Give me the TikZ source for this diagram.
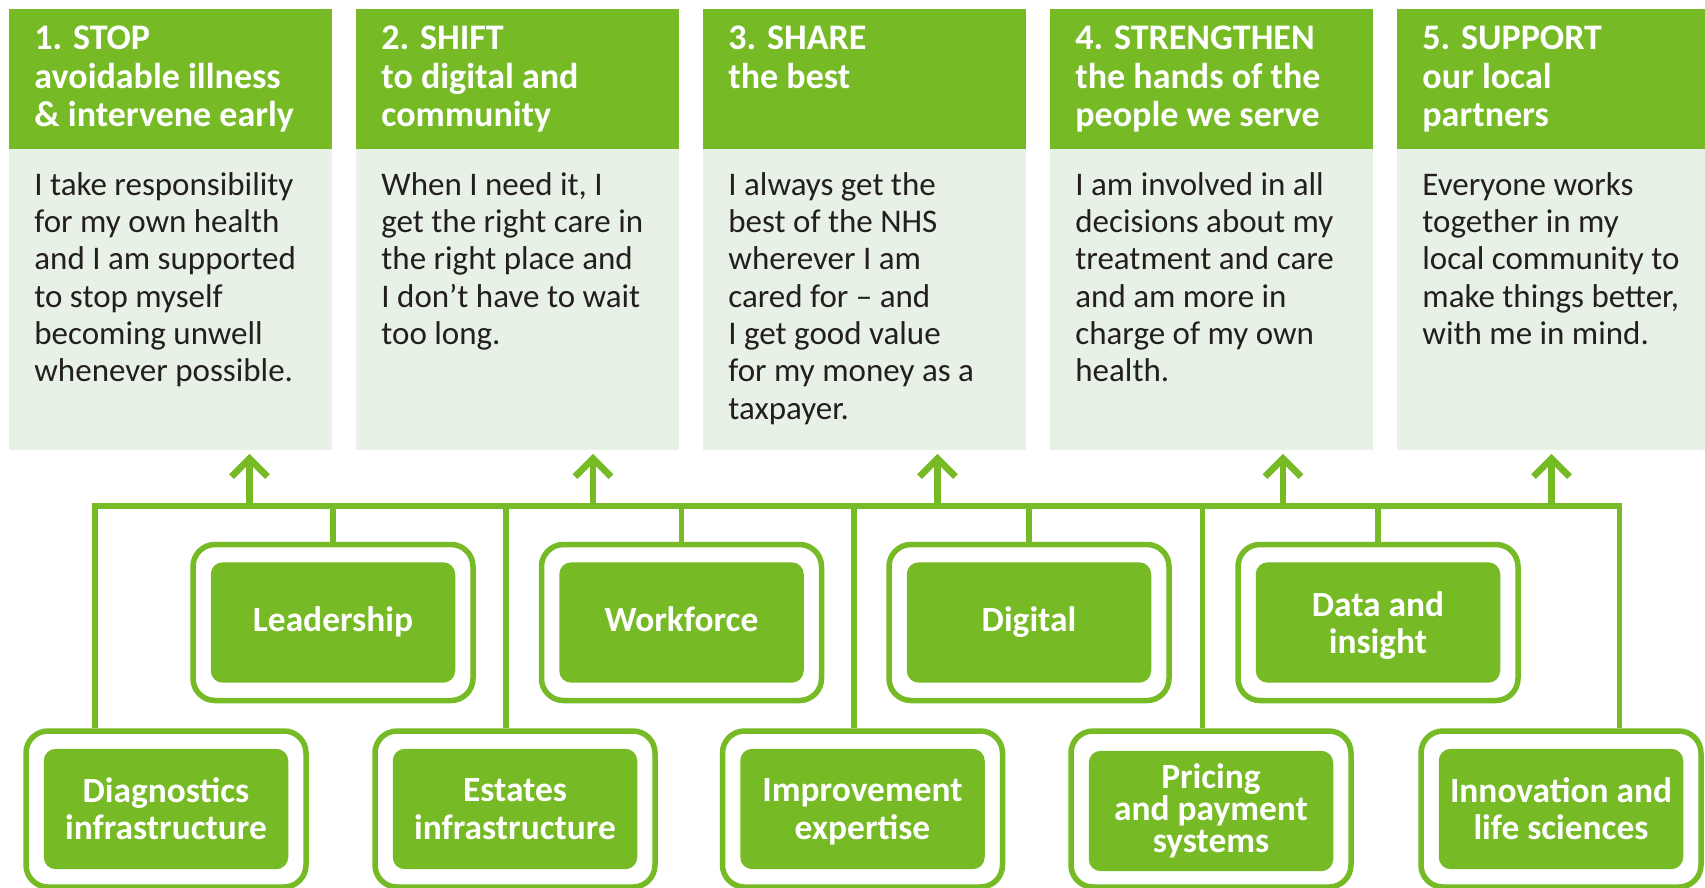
\documentclass[tikz,border=0pt]{standalone}
\usepackage{fontspec}
\setmainfont{Carlito}
\usetikzlibrary{positioning,arrows.meta,calc}

\definecolor{nhsgreen}{RGB}{118,186,38}
\definecolor{nhspale}{RGB}{232,241,229}
\definecolor{bodyink}{RGB}{35,31,32}

\begin{document}
\begin{tikzpicture}[x=0.5pt, y=-0.5pt,
  headbox/.style={fill=nhsgreen, anchor=north west, inner sep=0pt,
    minimum width=161.5pt, minimum height=70.15pt},
  bodybox/.style={fill=nhspale, anchor=north west, inner sep=0pt,
    minimum width=161.5pt, minimum height=150.5pt},
  headtxt/.style={anchor=north west, inner sep=0pt, align=left, text=white,
    font=\fontsize{18}{19.25}\selectfont\bfseries},
  bodytxt/.style={anchor=north west, inner sep=0pt, align=left, text=bodyink,
    font=\fontsize{16.5}{18.65}\selectfont},
  frame/.style={draw=nhsgreen, line width=2.75pt, rounded corners=11pt,
    minimum width=140pt, minimum height=78pt, inner sep=0pt},
  enabler/.style={fill=nhsgreen, rounded corners=6pt, inner sep=0pt,
    minimum width=122.25pt, minimum height=60.2pt, align=center, text=white,
    font=\fontsize{17.7}{18.65}\selectfont\bfseries},
  link/.style={draw=nhsgreen, line width=2.8pt},
  uparrow/.style={link, line width=3.4pt,
    -{Straight Barb[length=9pt, width=18pt]}, shorten >=1.5pt}
]
  \useasboundingbox[fill=white] (0,0) rectangle (1705,888);

  % the five columns
  \foreach \i/\x/\head/\body in {
    1/9/{1. STOP\\avoidable illness\\\& intervene early}/{I take responsibility\\for my own health\\and I am supported\\to stop myself\\becoming unwell\\whenever possible.},
    2/356/{2. SHIFT\\to digital and\\community}/{When I need it, I\\get the right care in\\the right place and\\I don’t have to wait\\too long.},
    3/703/{3. SHARE\\the best}/{I always get the\\best of the NHS\\wherever I am\\cared for – and\\I get good value\\for my money as a\\taxpayer.},
    4/1050/{4. STRENGTHEN\\the hands of the\\people we serve}/{I am involved in all\\decisions about my\\treatment and care\\and am more in\\charge of my own\\health.},
    5/1397/{5. SUPPORT\\our local\\partners}/{Everyone works\\together in my\\local community to\\make things better,\\with me in mind.}} {
    \node[headbox] (head\i) at (\x,8.7) {};
    \node[bodybox] (body\i) at (\x,149) {};
    \node[headtxt] at (\x+25,25.5) {\head};
    \node[bodytxt] at (\x+25,172) {\body};
  }

  % enablers, top row
  \foreach \n/\x/\lbl/\dep in {lead/333/Leadership/3.6pt, work/681.5/Workforce/3.6pt,
      digi/1029/Digital/3.6pt, data/1378/{Data and\\insight}/0pt} {
    \node[frame] (\n) at (\x,622.5) {};
    \node[enabler, text depth=\dep] (\n-in) at (\x,622.5) {\lbl};
  }

  % enablers, bottom row
  \node[frame] (diag) at (166,809) {};
  \node[enabler] (diag-in) at (166,809) {Diagnostics\\infrastructure};
  \node[frame] (estate) at (515,809) {};
  \node[enabler] (estate-in) at (515,809) {Estates\\infrastructure};
  \node[frame] (improve) at (862.5,809) {};
  \node[enabler, text depth=0pt] (improve-in) at (862.5,809) {Improvement\\expertise};
  \node[frame] (pricing) at (1211,809) {};
  \node[enabler, font=\fontsize{17.7}{16}\selectfont\bfseries] (pricing-in) at (1211,811) {Pricing\\and payment\\systems};
  \node[frame] (innov) at (1561,809) {};
  \node[enabler] (innov-in) at (1561,809) {Innovation and\\life sciences};

  % bus line
  \coordinate (busL) at (94.8,506);
  \coordinate (busR) at (1619.4,506);
  \draw[link] (diag.north -| busL) -- (busL) -- (busR) -- (innov.north -| busR);
  \foreach \n in {lead,work,digi,data}
    \draw[link] (\n.north) -- (\n.north |- busL);
  \foreach \n/\x in {estate/505.8, improve/854, pricing/1202.4} {
    \coordinate (tap-\n) at (\x,506);
    \draw[link] (tap-\n) -- (tap-\n |- \n.north);
  }

  % arrows up into the columns
  \foreach \i/\x in {1/249.5, 2/593, 3/937.5, 4/1283, 5/1551.5} {
    \coordinate (up\i) at (\x,506);
    \draw[uparrow] (up\i) -- (up\i |- body\i.south);
  }
\end{tikzpicture}
\end{document}
